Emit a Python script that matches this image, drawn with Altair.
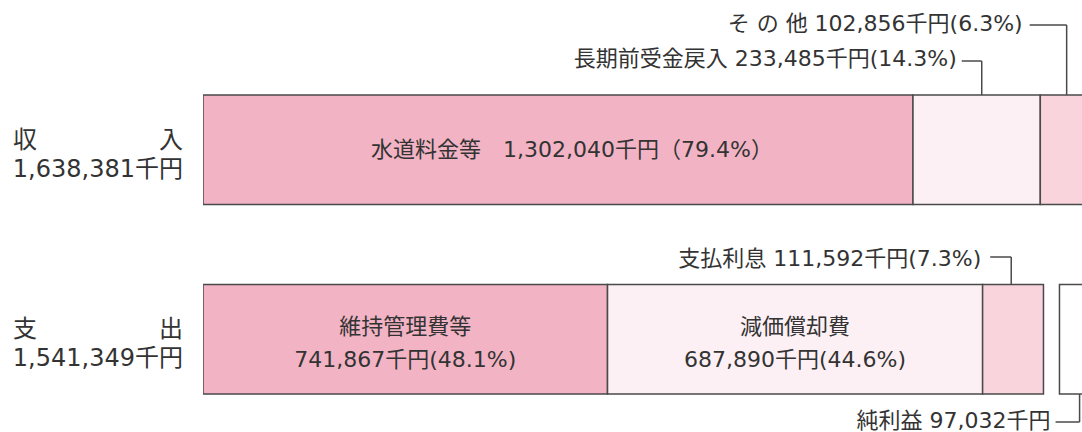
import altair as alt
import pandas as pd

# ---------------- data ----------------
rows = ["収入", "支出"]
row_head = ["収", "支"]
row_tail = ["入", "出"]
row_totals = [1638381, 1541349]

inc_names = ["水道料金等", "長期前受金戻入", "その他"]
inc_display = ["水道料金等", "長期前受金戻入", "そ の 他"]
inc_values = [1302040, 233485, 102856]
inc_pcts = [79.4, 14.3, 6.3]
inc_tone = ["dark", "pale", "light"]

exp_names = ["維持管理費等", "減価償却費", "支払利息", "純利益"]
exp_display = ["維持管理費等", "減価償却費", "支払利息", "純利益"]
exp_values = [741867, 687890, 111592, 97032]
exp_pcts = [48.1, 44.6, 7.3, None]
exp_tone = ["dark", "pale", "light", "blank"]

# ---------------- layout / style ----------------
W, H = 879, 432
DOMAIN_MAX = 1612000
K = W / DOMAIN_MAX  # px per unit
NET_GAP_PX = 16
FONT = "DejaVu Sans, Noto Sans CJK JP"
TXT = "#333333"
LINE = "#4a4a4a"

tone_domain = ["dark", "pale", "light", "blank"]
tone_range = ["#f2b3c4", "#fdf0f4", "#f9d4dd", "#ffffff"]


def money(v):
    return f"{v:,}千円"


recs = []
start = 0
for n, d, v, p, t in zip(inc_names, inc_display, inc_values, inc_pcts, inc_tone):
    recs.append(dict(row="収入", name=n, disp=d, value=v, pct=p, tone=t,
                     start=start, end=start + v))
    start += v
start = 0
for n, d, v, p, t in zip(exp_names, exp_display, exp_values, exp_pcts, exp_tone):
    if n == "純利益":
        start += NET_GAP_PX / K
    recs.append(dict(row="支出", name=n, disp=d, value=v, pct=p, tone=t,
                     start=start, end=start + v))
    start += v
bars_df = pd.DataFrame(recs)
bars_df["mid"] = (bars_df["start"] + bars_df["end"]) / 2

inner_names = ["水道料金等", "維持管理費等", "減価償却費"]
inner_df = bars_df[bars_df["name"].isin(inner_names)].copy()
inner_df["label"] = [
    f"{d}　{money(v)}（{p}%）" if r == "収入" else f"{d}\n{money(v)}({p}%)"
    for d, v, p, r in zip(inner_df["disp"], inner_df["value"], inner_df["pct"], inner_df["row"])
]

left_df = pd.DataFrame({"row": rows, "head": row_head, "tail": row_tail,
                        "total": [money(t) for t in row_totals]})

xscale = alt.Scale(domain=[0, DOMAIN_MAX], nice=False, zero=True)
yscale = alt.Scale(domain=rows, paddingInner=0.422, paddingOuter=0.351, align=0.714)

bars = alt.Chart(bars_df).mark_bar(stroke=LINE, strokeWidth=1.5, clip=True).encode(
    x=alt.X("start:Q", scale=xscale, axis=None),
    x2="end:Q",
    y=alt.Y("row:N", scale=yscale, axis=None),
    color=alt.Color("tone:N", scale=alt.Scale(domain=tone_domain, range=tone_range), legend=None),
)

text_common = dict(font=FONT, color=TXT, baseline="middle")

inner_top = alt.Chart(inner_df[inner_df["row"] == "収入"]).mark_text(
    fontSize=22, align="center", dx=14, **text_common
).encode(
    x=alt.X("mid:Q", scale=xscale),
    y=alt.Y("row:N", scale=yscale),
    text="label:N",
)
inner_bot = alt.Chart(inner_df[inner_df["row"] == "支出"]).mark_text(
    fontSize=22, align="center", lineBreak="\n", lineHeight=33, dy=-12, **text_common
).encode(
    x=alt.X("mid:Q", scale=xscale),
    y=alt.Y("row:N", scale=yscale),
    text="label:N",
)

left_head = alt.Chart(left_df).mark_text(fontSize=24, align="left", dy=-9, **text_common).encode(
    x=alt.value(-190), y=alt.Y("row:N", scale=yscale), text="head:N")
left_tail = alt.Chart(left_df).mark_text(fontSize=24, align="right", dy=-9, **text_common).encode(
    x=alt.value(-20), y=alt.Y("row:N", scale=yscale), text="tail:N")
left_total = alt.Chart(left_df).mark_text(fontSize=24, align="right", dy=20, **text_common).encode(
    x=alt.value(-20), y=alt.Y("row:N", scale=yscale), text="total:N")

# ---------------- callouts ----------------
ann_names = ["長期前受金戻入", "その他", "支払利息", "純利益"]
ann_text_y = [59, 24, 259, 421]
ann_line_y = [61, 25, 257, 422]
ann_frac = [0.54, 0.47, 0.47, 0.38]
ann_arm_px = [20, 37, 21, 24]
ann_gap_px = [5, 7, 9, 5]
ann_edge = [0, 0, 0, 1]

layers = [bars, inner_top, inner_bot, left_head, left_tail, left_total]
for n, ty, ly, fr, arm, gp, edge in zip(ann_names, ann_text_y, ann_line_y, ann_frac,
                                          ann_arm_px, ann_gap_px, ann_edge):
    r = bars_df[bars_df["name"] == n].iloc[0]
    vx = r["start"] + fr * r["value"]
    hx = vx - arm / K
    if pd.isna(r["pct"]):
        label = f"{r['disp']} {money(r['value'])}"
    else:
        label = f"{r['disp']} {money(r['value'])}({r['pct']}%)"
    d = pd.DataFrame({"row": [r["row"]], "vx": [vx], "hx": [hx], "label": [label]})
    base = alt.Chart(d)
    layers.append(base.mark_text(fontSize=22, align="right", dx=-gp, **text_common).encode(
        x=alt.X("hx:Q", scale=xscale), y=alt.value(ty), text="label:N"))
    layers.append(base.mark_rule(stroke=LINE, strokeWidth=1.5).encode(
        x=alt.X("hx:Q", scale=xscale), x2="vx:Q", y=alt.value(ly)))
    layers.append(base.mark_rule(stroke=LINE, strokeWidth=1.5).encode(
        x=alt.X("vx:Q", scale=xscale),
        y=alt.Y("row:N", scale=yscale, bandPosition=edge),
        y2=alt.value(ly)))

chart = alt.layer(*layers).properties(
    width=W, height=H,
    autosize=alt.AutoSizeParams(type="none"),
    padding={"left": 203, "top": 0, "right": 0, "bottom": 0},
    background="#ffffff",
).configure_view(stroke=None)

chart.save("out.html", embed_options={"renderer": "svg", "actions": False})
